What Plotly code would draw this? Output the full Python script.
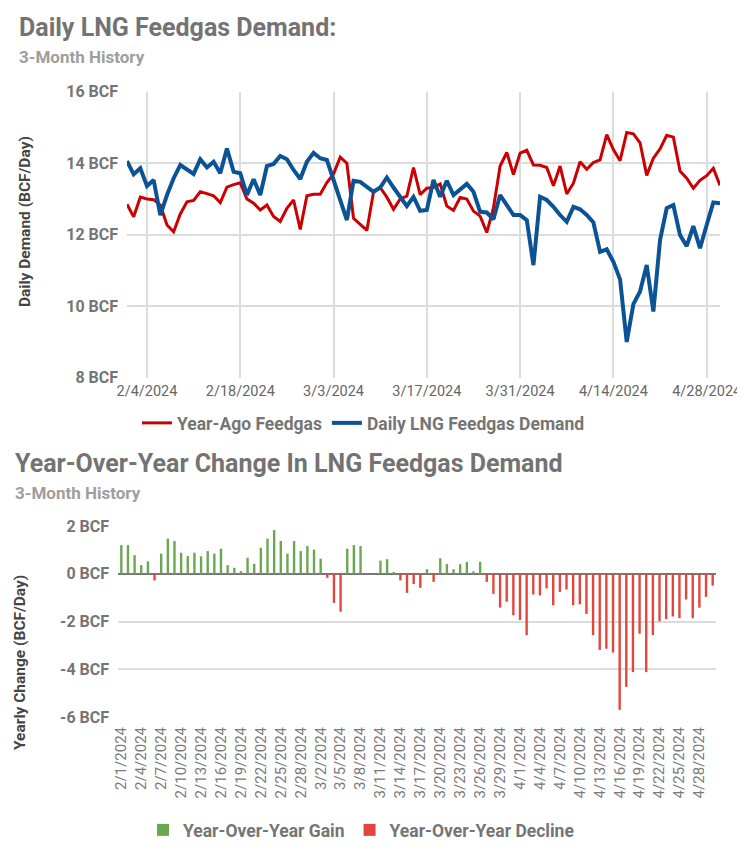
import plotly.graph_objects as go
import pandas as pd

# ---------------- data ----------------
dates = pd.date_range("2024-02-01", "2024-04-30", freq="D")
date_labels = [f"{d.month}/{d.day}/{d.year}" for d in dates]

daily_demand = [
    14.06, 13.69, 13.86, 13.36, 13.53, 12.55, 13.11, 13.58, 13.95, 13.83,
    13.70, 14.11, 13.88, 14.04, 13.72, 14.41, 13.76, 13.72, 13.11, 13.55,
    13.11, 13.92, 13.98, 14.20, 14.11, 13.81, 13.56, 14.04, 14.29, 14.14,
    14.09, 13.53, 12.97, 12.41, 13.51, 13.48, 13.34, 13.20, 13.32, 13.60,
    13.32, 13.06, 12.80, 13.06, 12.67, 12.69, 13.53, 13.06, 13.51, 13.11,
    13.27, 13.42, 13.20, 12.64, 12.62, 12.43, 13.11, 12.83, 12.55, 12.55,
    12.41, 11.15, 13.06, 12.97, 12.78, 12.55, 12.36, 12.78, 12.71, 12.55,
    12.34, 11.52, 11.59, 11.24, 10.75, 9.00, 10.06, 10.41, 11.15, 9.85,
    11.85, 12.74, 12.83, 11.99, 11.68, 12.24, 11.62, 12.27, 12.90, 12.88,
]

year_ago = [
    12.85, 12.50, 13.05, 13.00, 12.98, 12.83, 12.27, 12.08, 12.58, 12.92,
    12.96, 13.20, 13.15, 13.09, 12.90, 13.33, 13.40, 13.45, 13.00, 12.88,
    12.69, 12.83, 12.51, 12.37, 12.74, 12.97, 12.15, 13.09, 13.13, 13.13,
    13.46, 13.70, 14.17, 14.00, 12.46, 12.28, 12.12, 13.20, 13.32, 13.05,
    12.71, 13.00, 13.08, 13.88, 13.12, 13.30, 13.32, 13.42, 12.80, 12.68,
    13.04, 13.00, 12.66, 12.52, 12.06, 12.75, 13.92, 14.30, 13.68, 14.28,
    14.36, 13.95, 13.94, 13.88, 13.37, 13.92, 13.14, 13.44, 14.04, 13.83,
    14.02, 14.09, 14.80, 14.38, 14.07, 14.86, 14.82, 14.57, 13.66, 14.14,
    14.40, 14.78, 14.73, 13.78, 13.58, 13.30, 13.52, 13.65, 13.86, 13.38,
]

yoy_change = [
    1.20, 1.20, 0.78, 0.36, 0.52, -0.28, 0.84, 1.47, 1.37, 0.88,
    0.74, 0.88, 0.73, 0.95, 0.84, 1.05, 0.36, 0.25, 0.11, 0.67,
    0.42, 1.09, 1.47, 1.83, 1.37, 0.84, 1.37, 0.95, 1.16, 1.01,
    0.63, -0.17, -1.22, -1.59, 1.05, 1.20, 1.16, 0.00, 0.00, 0.55,
    0.61, 0.06, -0.28, -0.80, -0.43, -0.59, 0.19, -0.34, 0.65, 0.41,
    0.19, 0.40, 0.50, 0.10, 0.50, -0.34, -0.84, -1.42, -1.17, -1.74,
    -1.94, -2.57, -0.87, -0.91, -0.61, -1.32, -0.76, -0.66, -1.32, -1.28,
    -1.68, -2.57, -3.19, -3.14, -3.30, -5.70, -4.74, -4.12, -2.51, -4.12,
    -2.57, -1.99, -1.90, -1.79, -1.86, -1.08, -1.86, -1.42, -0.97, -0.50,
]

top_tick_dates = ["2024-02-04", "2024-02-18", "2024-03-03", "2024-03-17",
                  "2024-03-31", "2024-04-14", "2024-04-28"]
top_tick_text = ["2/4/2024", "2/18/2024", "3/3/2024", "3/17/2024",
                 "3/31/2024", "4/14/2024", "4/28/2024"]
top_y_vals = [8, 10, 12, 14, 16]
top_y_text = ["8 BCF", "10 BCF", "12 BCF", "14 BCF", "16 BCF"]
bot_y_vals = [-6, -4, -2, 0, 2]
bot_y_text = ["-6 BCF", "-4 BCF", "-2 BCF", "0 BCF", "2 BCF"]

gains = [v if v > 0 else None for v in yoy_change]
declines = [v if v < 0 else None for v in yoy_change]

# ---------------- figure ----------------
# the page body has an 8px margin, so the figure is 8px smaller and
# positions below are given in page pixels, shifted by that margin
OFF = 8
W, H = 745 - OFF, 860 - OFF
def px(x):
    return (x - OFF) / W
def py(y):
    return 1 - (y - OFF) / H

GRID = "#dcdcdc"
TICK = "#757575"
DARK = "#444444"

fig = go.Figure()
fig.add_trace(go.Scatter(x=dates, y=year_ago, name="Year-Ago Feedgas", mode="lines",
                         line=dict(color="#cc0000", width=3), xaxis="x", yaxis="y",
                         legend="legend", hoverinfo="skip"))
fig.add_trace(go.Scatter(x=dates, y=daily_demand, name="Daily LNG Feedgas Demand", mode="lines",
                         line=dict(color="#0b5394", width=4), xaxis="x", yaxis="y",
                         legend="legend", hoverinfo="skip"))
fig.add_trace(go.Bar(x=date_labels, y=gains, name="Year-Over-Year Gain",
                     marker=dict(color="#6aa84f", line=dict(width=0)), width=0.36,
                     xaxis="x2", yaxis="y2", legend="legend2"))
fig.add_trace(go.Bar(x=date_labels, y=declines, name="Year-Over-Year Decline",
                     marker=dict(color="#e2463c", line=dict(width=0)), width=0.36,
                     xaxis="x2", yaxis="y2", legend="legend2"))

fig.update_layout(
    width=W, height=H, margin=dict(l=0, r=0, t=0, b=0, autoexpand=False),
    paper_bgcolor="white", plot_bgcolor="white",
    font=dict(family="Roboto", color=TICK),
    barmode="overlay",
    xaxis=dict(domain=[px(127), px(720)], anchor="y", type="date",
               range=["2024-02-01", "2024-04-30"],
               tickvals=top_tick_dates, ticktext=top_tick_text,
               showgrid=True, gridcolor=GRID, gridwidth=1.5, zeroline=False,
               showline=False, ticks="", ticklabelstandoff=3, automargin=False,
               tickfont=dict(size=14.5, color="#666666")),
    yaxis=dict(domain=[py(377.7), py(91.7)], anchor="x", range=[8, 16],
               tickvals=top_y_vals, ticktext=top_y_text,
               showgrid=True, gridcolor=GRID, gridwidth=1.5, zeroline=False,
               showline=False, ticks="", ticklabelstandoff=8, automargin=False,
               tickfont=dict(size=16, color=TICK, weight="bold")),
    xaxis2=dict(domain=[px(118), px(716)], anchor="y2", type="category",
                range=[-0.5, 89.5], tickvals=date_labels[::3], ticktext=date_labels[::3],
                tickangle=-90, showgrid=False, zeroline=False, showline=False,
                ticks="", ticklabelstandoff=6, automargin=False,
                tickfont=dict(size=15, color="#7a7a7a")),
    yaxis2=dict(domain=[py(717), py(526)], anchor="x2", range=[-6, 2],
                tickvals=bot_y_vals, ticktext=bot_y_text,
                showgrid=True, gridcolor=GRID, gridwidth=1.5,
                zeroline=True, zerolinecolor="#777777", zerolinewidth=1.5,
                showline=False, ticks="", ticklabelstandoff=8, automargin=False,
                tickfont=dict(size=16, color=TICK, weight="bold")),
    legend=dict(orientation="h", x=px(137), y=py(423), xanchor="left", yanchor="middle",
                font=dict(size=17.5, color=TICK, weight="bold"), bgcolor="rgba(0,0,0,0)"),
    legend2=dict(orientation="h", x=px(143), y=py(830), xanchor="left", yanchor="middle",
                 font=dict(size=17.5, color=TICK, weight="bold"), bgcolor="rgba(0,0,0,0)"),
    showlegend=True,
)

def label(text, x, y, size, color, angle=0, xanchor="left"):
    fig.add_annotation(text=text, x=px(x), y=py(y), xref="paper", yref="paper",
                       xanchor=xanchor, yanchor="middle", showarrow=False, textangle=angle,
                       font=dict(family="Roboto", size=size, color=color, weight="bold"))

label("Daily LNG Feedgas Demand:", 17, 27, 25, "#737373")
label("3-Month History", 17, 57, 17, "#9e9e9e")
label("Year-Over-Year Change In LNG Feedgas Demand", 13, 464, 25, "#737373")
label("3-Month History", 13, 493, 17, "#9e9e9e")
label("Daily Demand (BCF/Day)", 25, 222, 15.5, DARK, angle=-90, xanchor="center")
label("Yearly Change (BCF/Day)", 20, 663, 15.5, DARK, angle=-90, xanchor="center")

fig.write_html("out.html")
